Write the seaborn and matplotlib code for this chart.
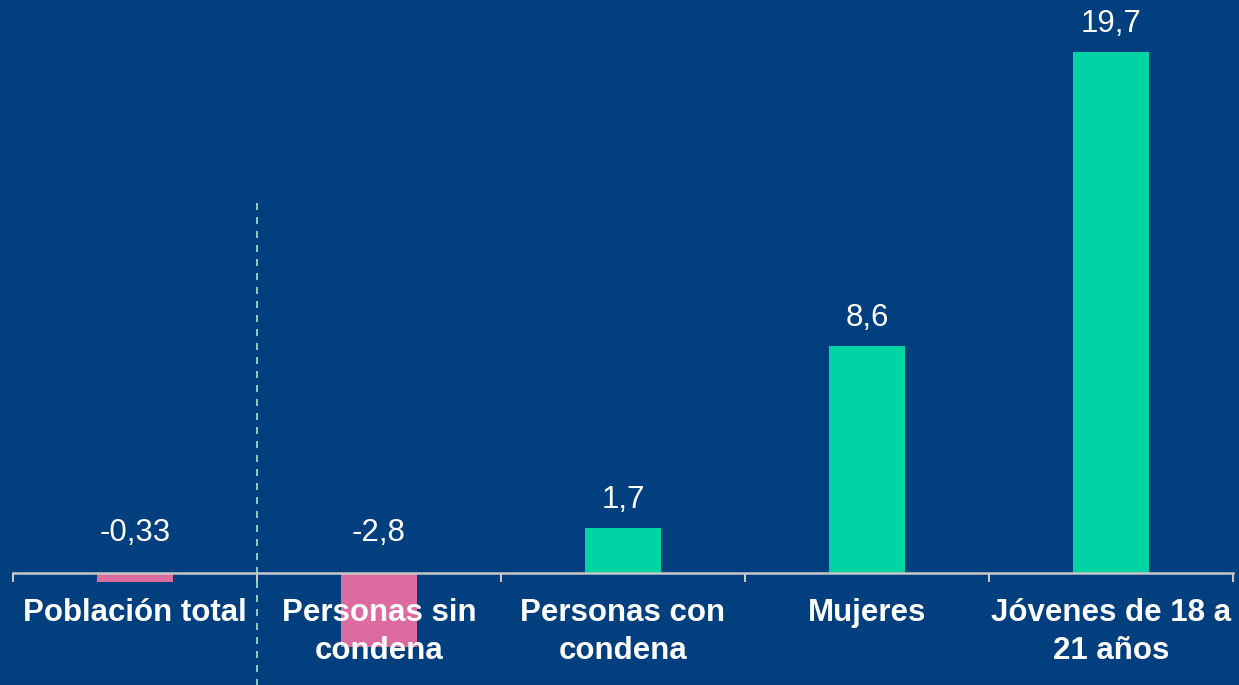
import matplotlib
matplotlib.use("Agg")
import matplotlib.pyplot as plt
import seaborn as sns
import pandas as pd

# Data
categories = ["Población total", "Personas sin\ncondena", "Personas con\ncondena",
              "Mujeres", "Jóvenes de 18 a\n21 años"]
values = [-0.33, -2.8, 1.7, 8.6, 19.7]

BG = "#013F7E"
GREEN = "#00D4A4"
PINK = "#DE6B9F"
AXIS = "#C8C8C8"

sns.set_style("white")
plt.rcParams["font.family"] = ["Liberation Sans", "DejaVu Sans"]

df = pd.DataFrame({"categoria": categories, "valor": values})
palette = [PINK if v < 0 else GREEN for v in values]

fig = plt.figure(figsize=(12.39, 6.85), dpi=100, facecolor=BG)
ax = fig.add_axes([13 / 1239, 0, 1220 / 1239, 1])
ax.set_facecolor(BG)

sns.barplot(data=df, x="categoria", y="valor", hue="categoria", palette=palette,
            width=0.315, legend=False, ax=ax, saturation=1, linewidth=0)

ax.set_xlim(-0.5, len(categories) - 0.5)
ax.set_ylim(-4.23, 21.66)
ax.set_axisbelow(False)

# value labels
for i, v in enumerate(values):
    txt = f"{v:g}".replace(".", ",")
    if v >= 0:
        ax.annotate(txt, (i, v), xytext=(0, 20), textcoords="offset points",
                    ha="center", va="center", color="white", fontsize=22.5)
    else:
        ax.annotate(txt, (i, 0), xytext=(0, 29), textcoords="offset points",
                    ha="center", va="center", color="white", fontsize=22.5)

# dashed separator after the first category
ax.plot([0.5, 0.5], [14.0, -4.23], color="#A6E3D3", lw=1.2,
        linestyle=(0, (4.2, 4.2)), zorder=3)

# axis styling
for s in ["top", "right", "left"]:
    ax.spines[s].set_visible(False)
ax.spines["bottom"].set_position(("data", 0))
ax.spines["bottom"].set_color(AXIS)
ax.spines["bottom"].set_linewidth(1.8)
ax.set_yticks([])
ax.set_xlabel("")
ax.set_ylabel("")
ax.set_xticks(range(len(categories)))
ax.set_xticklabels(categories, fontsize=22.5, fontweight="bold", color="white",
                   linespacing=1.33)
ax.tick_params(axis="x", which="major", length=0, pad=18)
ax.set_xticks([i - 0.5 for i in range(len(categories) + 1)], minor=True)
ax.tick_params(axis="x", which="minor", bottom=True, length=6.5, width=1.5,
               color=AXIS, direction="out")

fig.savefig("out.png", dpi=100, facecolor=BG)
